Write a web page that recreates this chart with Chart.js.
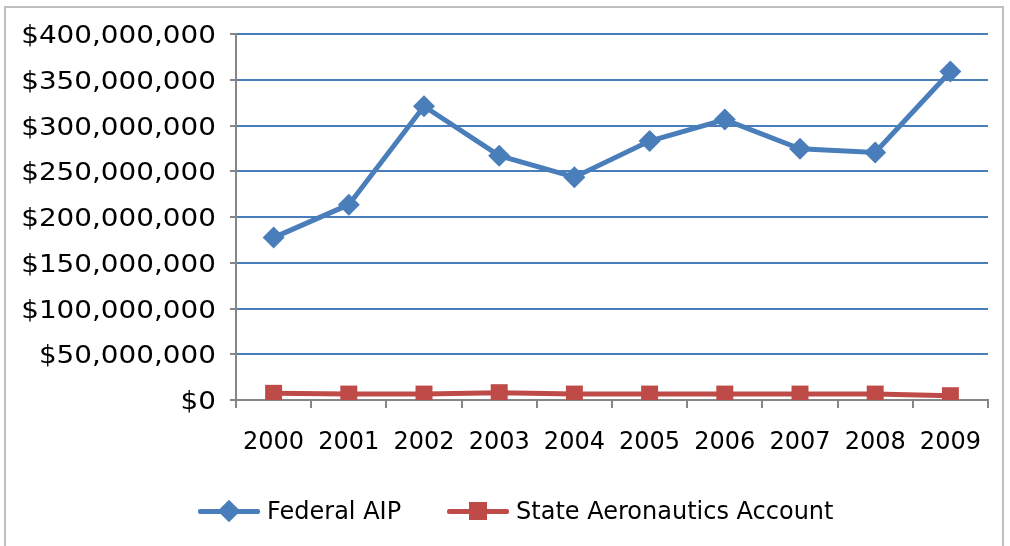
<!DOCTYPE html>
<html>
<head>
<meta charset="utf-8">
<script src="https://cdn.jsdelivr.net/npm/chart.js@4/dist/chart.umd.min.js"></script>
<style>
  body { margin: 0; background: #fff; }
  #wrap { position: relative; width: 1010px; height: 546px; }
  #frame { position: absolute; left: 4px; top: 6px; width: 1000px; height: 560px; border: 2px solid #bfbfbf; box-sizing: border-box; }
  #grafico { position: absolute; left: 0; top: 0; }
  #legend { position: absolute; top: 496px; left: 198px; font-family: "DejaVu Sans", sans-serif; font-size: 24px; color: #000; display: flex; align-items: center; }
  .item { display: flex; align-items: center; margin-right: 46px; }
  .sym { position: relative; width: 62px; height: 30px; margin-right: 7px; }
  .sym .ln { position: absolute; left: 0; right: 0; top: 13px; height: 5px; border-radius: 2px; }
  .sym .mk { position: absolute; left: 23px; top: 7px; width: 16px; height: 16px; }
</style>
</head>
<body>
<div id="wrap">
  <div id="frame"></div>
  <canvas id="grafico" width="1010" height="546"></canvas>
  <div id="legend">
    <div class="item"><div class="sym"><div class="ln" style="background:#4a7ebb"></div><div class="mk" style="background:#4a7ebb;transform:rotate(45deg)"></div></div>Federal AIP</div>
    <div class="item"><div class="sym"><div class="ln" style="background:#be4b48"></div><div class="mk" style="background:#be4b48;width:18px;height:18px;left:22px;top:6px"></div></div>State Aeronautics Account</div>
  </div>
</div>
<script>
// Datos del gráfico
const anios = ["2000", "2001", "2002", "2003", "2004", "2005", "2006", "2007", "2008", "2009"];
const federalAIP = [177500000, 213500000, 321000000, 267000000, 243500000, 283000000, 306500000, 274500000, 270500000, 359000000];
const estatal = [7300000, 6500000, 6500000, 8000000, 6500000, 6500000, 6500000, 6500000, 6500000, 4700000];

const azul = "#4a7ebb";
const rojo = "#be4b48";
const gris = "#868686";
const fuente = { family: "DejaVu Sans", size: 24 };

function dinero(v) {
  return "$" + v.toLocaleString("en-US");
}

const ctx = document.getElementById("grafico").getContext("2d");
const grafico = new Chart(ctx, {
  type: "line",
  data: {
    labels: anios,
    datasets: [
      {
        label: "Federal AIP",
        data: federalAIP,
        borderColor: azul,
        backgroundColor: azul,
        borderWidth: 5,
        pointStyle: "rectRot",
        pointRadius: 11,
        pointBorderWidth: 0,
        tension: 0,
      },
      {
        label: "State Aeronautics Account",
        data: estatal,
        borderColor: rojo,
        backgroundColor: rojo,
        borderWidth: 5,
        pointStyle: "rect",
        pointRadius: 12,
        pointBorderWidth: 0,
        tension: 0,
      },
    ],
  },
  options: {
    responsive: false,
    animation: false,
    layout: { padding: { left: 10, top: 34, right: 22, bottom: 81 } },
    plugins: {
      legend: { display: false },
      tooltip: { enabled: false },
    },
    scales: {
      x: {
        offset: true,
        grid: {
          offset: true,
          drawOnChartArea: false,
          color: gris,
          tickLength: 8,
          lineWidth: 2,
        },
        border: { color: gris, width: 2 },
        ticks: {
          color: "#000",
          padding: 20,
          font: fuente,
        },
        afterFit: function (scale) {
          scale.height = 65;
        },
      },
      y: {
        min: 0,
        max: 400000000,
        grid: {
          color: function (c) {
            return c.tick && c.tick.value === 0 ? gris : azul;
          },
          lineWidth: 2,
          tickColor: gris,
          tickLength: 6,
        },
        border: { color: gris, width: 2 },
        ticks: {
          stepSize: 50000000,
          color: "#000",
          padding: 14,
          font: fuente,
          callback: function (v) {
            return dinero(v);
          },
        },
        afterFit: function (scale) {
          scale.width = 226;
          // el texto del eje y sale estirado a lo ancho
          if (!scale._estirado) {
            const original = scale.drawLabels;
            scale.drawLabels = function (area) {
              const x0 = this.right - 6 - 14;
              this.ctx.save();
              this.ctx.translate(x0, 3);
              this.ctx.scale(1.16, 1);
              this.ctx.translate(-x0, 0);
              original.call(this, area);
              this.ctx.restore();
            };
            scale._estirado = true;
          }
        },
      },
    },
  },
});
</script>
</body>
</html>
